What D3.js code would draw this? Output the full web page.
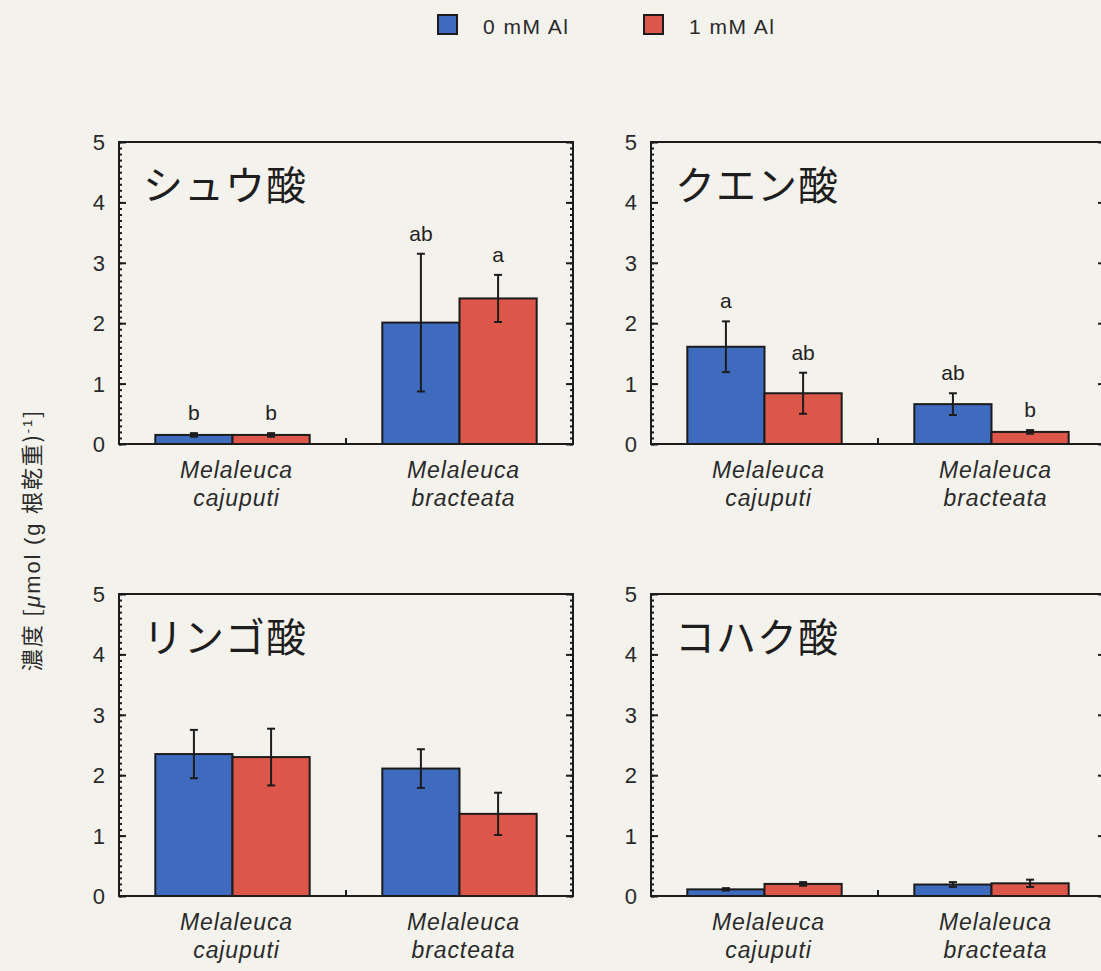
<!DOCTYPE html>
<html>
<head>
<meta charset="utf-8">
<script src="https://cdn.jsdelivr.net/npm/d3@7"></script>
<style>
  html, body { margin: 0; padding: 0; background: #f4f2ec; }
  svg { display: block; }
</style>
</head>
<body>
<svg id="chart" width="1101" height="971"></svg>
<script>
// Species (x categories) and treatments (series)
const species = [["Melaleuca", "cajuputi"], ["Melaleuca", "bracteata"]];
const speciesKeys = ["cajuputi", "bracteata"];
const treatments = ["0 mM Al", "1 mM Al"];

// Organic acid panels
const acids = ["シュウ酸", "クエン酸", "リンゴ酸", "コハク酸"];

// Mean concentrations [cajuputi, bracteata] per treatment
const oxalic0 = [0.15, 2.01];
const oxalic1 = [0.15, 2.41];
const citric0 = [1.61, 0.66];
const citric1 = [0.84, 0.20];
const malic0 = [2.35, 2.11];
const malic1 = [2.30, 1.36];
const succinic0 = [0.11, 0.19];
const succinic1 = [0.20, 0.21];

// Error bars (± SE)
const oxalicErr0 = [0.03, 1.14];
const oxalicErr1 = [0.03, 0.39];
const citricErr0 = [0.42, 0.18];
const citricErr1 = [0.34, 0.03];
const malicErr0 = [0.40, 0.32];
const malicErr1 = [0.47, 0.35];
const succinicErr0 = [0.02, 0.04];
const succinicErr1 = [0.03, 0.06];

// Significance letters
const oxalicSig0 = ["b", "ab"];
const oxalicSig1 = ["b", "a"];
const citricSig0 = ["a", "ab"];
const citricSig1 = ["ab", "b"];
const noSig = ["", ""];

const yTicks = [0, 1, 2, 3, 4, 5];

const colors = ["#3f6bbf", "#dc5649"];
const ink = "#1c1c1c";

const panels = [
  { title: acids[0], left: 119, top: 142, vals: [oxalic0, oxalic1], errs: [oxalicErr0, oxalicErr1], sig: [oxalicSig0, oxalicSig1] },
  { title: acids[1], left: 651, top: 142, vals: [citric0, citric1], errs: [citricErr0, citricErr1], sig: [citricSig0, citricSig1] },
  { title: acids[2], left: 119, top: 594, vals: [malic0, malic1], errs: [malicErr0, malicErr1], sig: [noSig, noSig] },
  { title: acids[3], left: 651, top: 594, vals: [succinic0, succinic1], errs: [succinicErr0, succinicErr1], sig: [noSig, noSig] }
];

const W = 454, H = 302;
const svg = d3.select("#chart");
const latin = "'Liberation Sans', Arial, Helvetica, sans-serif";
const cjk = "'Noto Sans CJK JP', 'Noto Sans', sans-serif";

const x0 = d3.scaleBand().domain(speciesKeys).range([0, W]).paddingInner(0.32).paddingOuter(0.16);
const x1 = d3.scaleBand().domain(treatments).range([0, x0.bandwidth()]).padding(0);
const y = d3.scaleLinear().domain([0, 5]).range([H, 0]);

panels.forEach(p => {
  const g = svg.append("g").attr("transform", `translate(${p.left},${p.top})`);

  // bars
  treatments.forEach((t, ti) => {
    speciesKeys.forEach((s, si) => {
      const v = p.vals[ti][si];
      const e = p.errs[ti][si];
      const bx = x0(s) + x1(t);
      const bw = x1.bandwidth();
      g.append("rect")
        .attr("x", bx).attr("y", y(v))
        .attr("width", bw).attr("height", y(0) - y(v))
        .attr("fill", colors[ti]).attr("stroke", ink).attr("stroke-width", 2);
      const cx = bx + bw / 2;
      const capW = 4;
      const eb = g.append("g").attr("stroke", ink).attr("stroke-width", 2);
      eb.append("line").attr("x1", cx).attr("x2", cx).attr("y1", y(v - e)).attr("y2", y(v + e));
      eb.append("line").attr("x1", cx - capW).attr("x2", cx + capW).attr("y1", y(v + e)).attr("y2", y(v + e));
      eb.append("line").attr("x1", cx - capW).attr("x2", cx + capW).attr("y1", y(v - e)).attr("y2", y(v - e));
      const lab = p.sig[ti][si];
      if (lab) {
        g.append("text")
          .attr("x", cx).attr("y", y(v + e) - 13)
          .attr("text-anchor", "middle")
          .attr("font-family", latin).attr("font-size", 21).attr("fill", "#222")
          .text(lab);
      }
    });
  });

  // left and right axes: major ticks each unit, minor every 0.1, pointing inward
  const minorVals = d3.range(0, 51).map(d => d / 10);
  const leftAx = d3.axisRight(y).tickValues(yTicks).tickSize(7).tickFormat("");
  const leftMinor = d3.axisRight(y).tickValues(minorVals).tickSize(3).tickFormat("");
  const rightAx = d3.axisLeft(y).tickValues(yTicks).tickSize(7).tickFormat("");
  const rightMinor = d3.axisLeft(y).tickValues(minorVals).tickSize(3).tickFormat("");

  [[leftMinor, 0], [leftAx, 0], [rightMinor, W], [rightAx, W]].forEach(([ax, tx]) => {
    const a = g.append("g").attr("transform", `translate(${tx},0)`).call(ax);
    a.select(".domain").remove();
    a.selectAll("line").attr("stroke", ink).attr("stroke-width", 2);
  });

  // tick labels
  g.append("g").selectAll("text").data(yTicks).join("text")
    .attr("x", -14).attr("y", d => y(d)).attr("dy", "0.36em")
    .attr("text-anchor", "end")
    .attr("font-family", latin).attr("font-size", 22).attr("fill", "#2a2a2a")
    .text(d => d);

  // middle tick on bottom axis
  g.append("line")
    .attr("x1", W / 2).attr("x2", W / 2).attr("y1", H).attr("y2", H - 6)
    .attr("stroke", ink).attr("stroke-width", 2);

  // frame
  g.append("rect").attr("x", 0).attr("y", 0).attr("width", W).attr("height", H)
    .attr("fill", "none").attr("stroke", ink).attr("stroke-width", 2);

  // category labels
  speciesKeys.forEach((s, si) => {
    const cx = x0(s) + x0.bandwidth() / 2 + 4;
    const t = g.append("text")
      .attr("x", cx).attr("text-anchor", "middle")
      .attr("font-family", latin).attr("font-size", 23).attr("font-style", "italic").attr("fill", "#2a2a2a")
      .attr("letter-spacing", 0.9);
    t.append("tspan").attr("x", cx).attr("y", H + 34).text(species[si][0]);
    t.append("tspan").attr("x", cx).attr("y", H + 62).text(species[si][1]);
  });

  // panel title
  g.append("text")
    .attr("x", 24).attr("y", 58)
    .attr("font-family", cjk).attr("font-size", 40).attr("fill", "#1e1e1e")
    .attr("letter-spacing", 1)
    .text(p.title);
});

// legend
const legend = svg.append("g");
const legX = [438, 644];
treatments.forEach((t, i) => {
  legend.append("rect").attr("x", legX[i]).attr("y", 15).attr("width", 19).attr("height", 19)
    .attr("fill", colors[i]).attr("stroke", ink).attr("stroke-width", 2);
  legend.append("text").attr("x", legX[i] + 45).attr("y", 34)
    .attr("font-family", latin).attr("font-size", 21).attr("fill", "#2a2a2a")
    .attr("letter-spacing", 1.5)
    .text(t);
});

// y axis title
const yt = svg.append("text")
  .attr("transform", "translate(40,540) rotate(-90)")
  .attr("text-anchor", "middle")
  .attr("font-family", cjk).attr("font-size", 22).attr("fill", "#2a2a2a")
  .attr("letter-spacing", 1.8);
yt.append("tspan").text("濃度 [");
yt.append("tspan").attr("font-style", "italic").attr("font-family", latin).text("μ");
yt.append("tspan").attr("font-family", latin).text("mol (g ");
yt.append("tspan").text("根乾重)");
yt.append("tspan").attr("font-size", 13).attr("dy", -8).attr("font-family", latin).text("-1");
yt.append("tspan").attr("dy", 8).text("]");
</script>
</body>
</html>
